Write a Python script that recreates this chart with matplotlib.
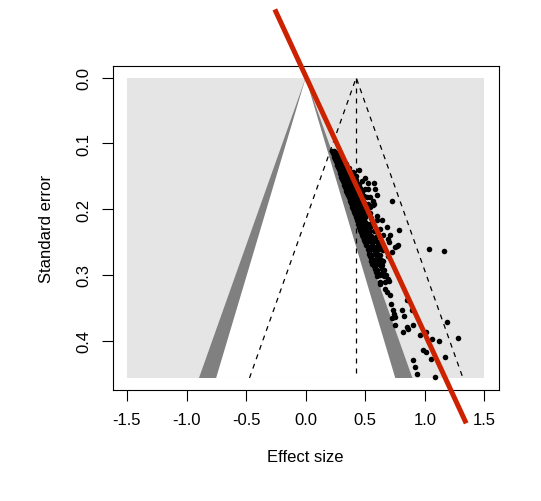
import numpy as np
import matplotlib.pyplot as plt

plt.rcParams['font.family'] = ['Liberation Sans', 'DejaVu Sans']

########## data ##########
# effect sizes and standard errors of the studies
effect = [
    0.225, 0.24, 0.23, 0.25, 0.262, 0.235, 0.255, 0.27, 0.24, 0.26, 0.28,
    0.248, 0.265, 0.29, 0.255, 0.275, 0.30, 0.26, 0.285, 0.31, 0.33,
    0.265, 0.29, 0.315, 0.27, 0.30, 0.325, 0.35, 0.28, 0.305, 0.335,
    0.285, 0.31, 0.34, 0.45, 0.29, 0.32, 0.355, 0.38, 0.295, 0.325, 0.36,
    0.30, 0.335, 0.37, 0.40, 0.305, 0.34, 0.375, 0.497, 0.315, 0.35, 0.39, 0.47,
    0.32, 0.36, 0.40, 0.52, 0.576, 0.325, 0.365, 0.41, 0.44, 0.33, 0.37, 0.42,
    0.335, 0.38, 0.43, 0.497, 0.582,
    0.34, 0.385, 0.44, 0.35, 0.39, 0.45, 0.42, 0.355, 0.40, 0.46,
    0.36, 0.41, 0.47, 0.512, 0.54, 0.37, 0.415, 0.455, 0.375, 0.42, 0.48, 0.722,
    0.38, 0.43, 0.49, 0.385, 0.44, 0.50, 0.567, 0.39, 0.445, 0.47,
    0.395, 0.45, 0.51, 0.405, 0.46, 0.50, 0.41, 0.465, 0.52, 0.42, 0.47, 0.50,
    0.43, 0.475, 0.596, 0.638, 0.44, 0.48, 0.52, 0.45, 0.49, 0.54, 0.680,
    0.46, 0.50, 0.786, 0.465, 0.512, 0.53, 0.47, 0.52, 0.708, 0.48, 0.554, 0.53,
    0.49, 0.54, 0.58, 0.50, 0.55, 0.60, 0.51, 0.56, 0.62, 0.777,
    0.52, 0.57, 0.63, 1.035, 0.53, 0.58, 0.727, 1.161, 0.535, 0.59, 0.60,
    0.54, 0.60, 0.693, 0.545, 0.605, 0.55, 0.61, 0.65, 0.56, 0.62, 0.57, 0.63,
    0.58, 0.64, 0.59, 0.65, 0.624, 0.60, 0.66, 0.693, 0.666, 0.62, 0.624,
    0.680, 0.708, 0.666, 0.848, 0.890, 0.735, 0.806, 0.825, 0.750, 0.722,
    0.750, 0.848, 0.903, 0.819, 0.861, 0.960, 1.010, 1.058, 1.122, 1.282,
    1.184, 0.987, 1.010, 1.050, 1.170, 0.903, 0.918, 0.932, 1.086,
    0.70, 0.72, 0.74,
    0.30, 0.34, 0.36, 0.34, 0.40, 0.36, 0.42, 0.33, 0.42, 0.38, 0.45,
    0.40, 0.46, 0.37, 0.41, 0.47, 0.38, 0.43, 0.49, 0.40, 0.44,
    0.41, 0.46, 0.52, 0.42, 0.48, 0.43, 0.48, 0.54, 0.45, 0.49, 0.55,
    0.46, 0.50, 0.56, 0.47, 0.52, 0.48, 0.53, 0.57, 0.50, 0.55, 0.60,
    0.52, 0.57, 0.62, 0.53, 0.59, 0.54, 0.60, 0.65, 0.56, 0.62,
    0.57, 0.63, 0.59, 0.64, 0.60, 0.66, 0.62, 0.67,
    0.525, 0.562, 0.54, 0.506, 0.596, 0.624, 0.651, 0.688, 0.624, 0.75,
    0.764, 0.70, 0.60, 0.57,
]
se = [
    0.112, 0.112, 0.115, 0.115, 0.115, 0.118, 0.118, 0.118, 0.121, 0.121, 0.121,
    0.124, 0.124, 0.124, 0.127, 0.127, 0.127, 0.130, 0.130, 0.130, 0.130,
    0.133, 0.133, 0.133, 0.136, 0.136, 0.136, 0.136, 0.139, 0.139, 0.139,
    0.142, 0.142, 0.142, 0.141, 0.145, 0.145, 0.145, 0.145, 0.148, 0.148, 0.148,
    0.151, 0.151, 0.151, 0.151, 0.154, 0.154, 0.154, 0.152, 0.157, 0.157, 0.157, 0.157,
    0.160, 0.160, 0.160, 0.160, 0.160, 0.163, 0.163, 0.163, 0.163, 0.166, 0.166, 0.166,
    0.169, 0.169, 0.169, 0.169, 0.169,
    0.172, 0.172, 0.172, 0.175, 0.175, 0.175, 0.175, 0.178, 0.178, 0.178,
    0.182, 0.182, 0.182, 0.182, 0.182, 0.185, 0.185, 0.185, 0.188, 0.188, 0.188, 0.187,
    0.191, 0.191, 0.191, 0.194, 0.194, 0.194, 0.194, 0.197, 0.197, 0.197,
    0.200, 0.200, 0.200, 0.204, 0.204, 0.204, 0.208, 0.208, 0.208, 0.212, 0.212, 0.212,
    0.217, 0.217, 0.217, 0.217, 0.222, 0.222, 0.222, 0.227, 0.227, 0.227, 0.227,
    0.231, 0.231, 0.231, 0.235, 0.235, 0.235, 0.239, 0.239, 0.239, 0.243, 0.243, 0.243,
    0.247, 0.247, 0.247, 0.250, 0.250, 0.250, 0.255, 0.255, 0.255, 0.255,
    0.260, 0.260, 0.260, 0.260, 0.264, 0.264, 0.265, 0.264, 0.268, 0.268, 0.268,
    0.271, 0.271, 0.271, 0.275, 0.275, 0.279, 0.279, 0.279, 0.283, 0.283, 0.287, 0.287,
    0.291, 0.291, 0.295, 0.295, 0.298, 0.302, 0.302, 0.306, 0.311, 0.311, 0.314,
    0.326, 0.331, 0.321, 0.339, 0.354, 0.354, 0.354, 0.362, 0.364, 0.366,
    0.377, 0.380, 0.377, 0.387, 0.382, 0.392, 0.387, 0.397, 0.400, 0.396,
    0.372, 0.415, 0.417, 0.428, 0.425, 0.430, 0.441, 0.451, 0.456,
    0.310, 0.345, 0.360,
    0.125, 0.132, 0.138, 0.144, 0.144, 0.150, 0.150, 0.156, 0.156, 0.162, 0.162,
    0.168, 0.168, 0.174, 0.174, 0.174, 0.180, 0.180, 0.180, 0.186, 0.186,
    0.192, 0.192, 0.192, 0.198, 0.198, 0.206, 0.206, 0.206, 0.214, 0.214, 0.214,
    0.220, 0.220, 0.220, 0.226, 0.226, 0.233, 0.233, 0.233, 0.241, 0.241, 0.241,
    0.249, 0.249, 0.249, 0.257, 0.257, 0.262, 0.262, 0.262, 0.270, 0.270,
    0.277, 0.277, 0.285, 0.285, 0.293, 0.293, 0.300, 0.300,
    0.170, 0.187, 0.197, 0.207, 0.210, 0.230, 0.240, 0.246, 0.255, 0.258,
    0.256, 0.250, 0.178, 0.192,
]

estimate = 0.424          # pooled estimate (centre of the funnel)
se_max = 0.457            # largest standard error on the axis
z90, z95 = 1.645, 1.96    # contour levels
reg_intercept = 0.006     # red regression line: effect = a + b * se
reg_slope = 2.55
reg_se_range = [-0.104, 0.526]

xticks = [-1.5, -1.0, -0.5, 0.0, 0.5, 1.0, 1.5]
yticks = [0.0, 0.1, 0.2, 0.3, 0.4]

light = '#e5e5e5'
dark = '#808080'

############ figure ############
fig = plt.figure(figsize=(5.41, 5.02), dpi=100)
ax = fig.add_axes([0.2083, 0.2211, 0.7135, 0.646])

# contour regions
ax.fill([-1.5, 1.5, 1.5, -1.5], [0, 0, se_max, se_max], color=light, lw=0, zorder=0)
ax.fill([0, z95 * se_max, -z95 * se_max], [0, se_max, se_max], color=dark, lw=0, zorder=1)
ax.fill([0, z90 * se_max, -z90 * se_max], [0, se_max, se_max], color='white', lw=0, zorder=2)

# funnel around the estimate
ax.plot([estimate - z95 * se_max, estimate, estimate + z95 * se_max],
        [se_max, 0, se_max], color='black', lw=0.9, ls=(0, (4, 4)), zorder=3)
ax.plot([estimate, estimate], [0, se_max], color='black', lw=0.9, ls=(0, (4, 4)), zorder=3)

# studies
ax.plot(effect, se, 'o', color='black', markersize=4, markeredgewidth=0, zorder=4)

# regression line
se_line = np.array(reg_se_range)
ax.plot(reg_intercept + reg_slope * se_line, se_line, color='#cc2200', lw=3.6,
        solid_capstyle='butt', clip_on=False, zorder=5)

ax.set_xlim(-1.62, 1.62)
ax.set_ylim(se_max + 0.0183, -0.0183)
ax.set_xticks(xticks)
ax.set_xticklabels(['%.1f' % t for t in xticks])
ax.set_yticks(yticks)
ax.set_yticklabels(['%.1f' % t for t in yticks], rotation=90, va='center')
ax.tick_params(direction='out', length=7.7, width=0.8, labelsize=12, pad=8)
for s in ax.spines.values():
    s.set_linewidth(0.8)
ax.set_xlabel('Effect size', fontsize=12, labelpad=16)
ax.set_ylabel('Standard error', fontsize=12, labelpad=16)

fig.savefig('out.png', dpi=100)
